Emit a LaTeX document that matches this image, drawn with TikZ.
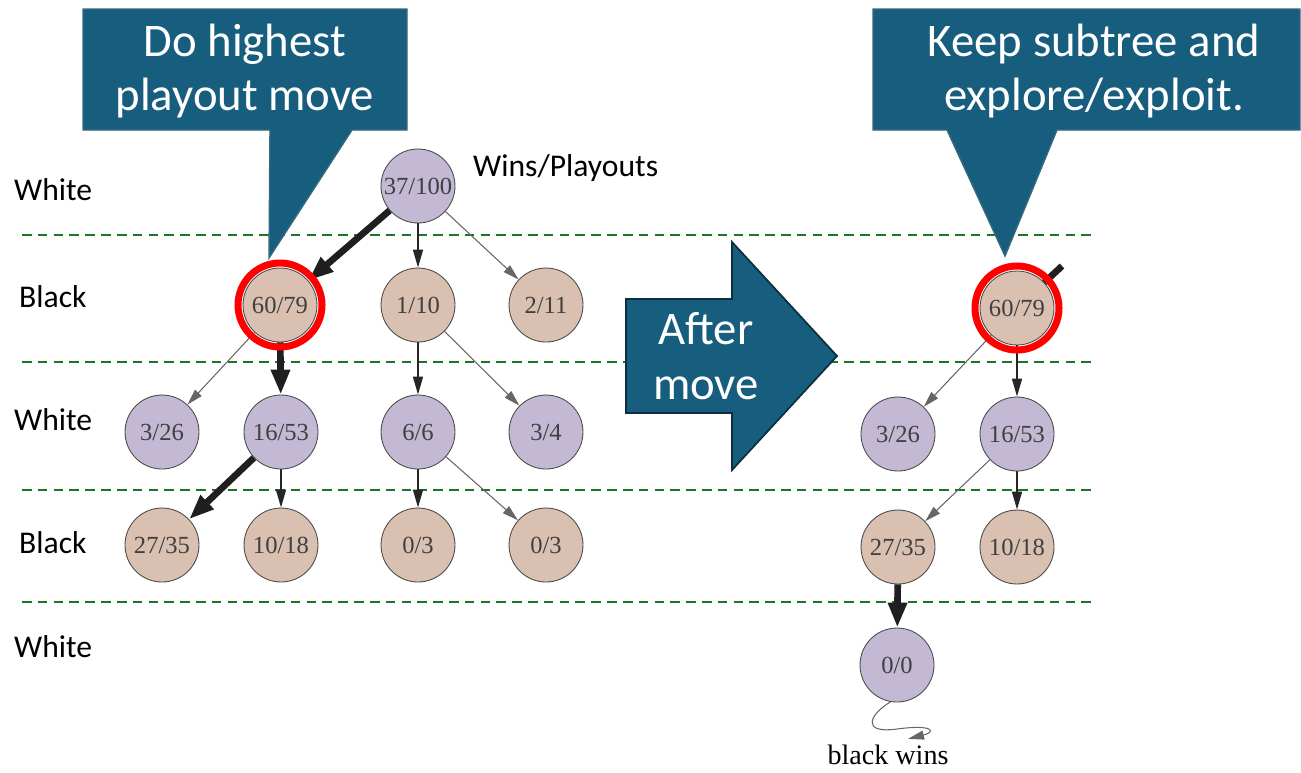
\documentclass[tikz,border=0pt]{standalone}
\usepackage{fontspec}
\setmainfont{Liberation Serif}
\newfontfamily\calibri{Carlito}
\usetikzlibrary{arrows.meta,calc}
\definecolor{calloutblue}{RGB}{23,94,126}
\definecolor{whitenode}{RGB}{196,185,212}
\definecolor{blacknode}{RGB}{217,192,176}
\definecolor{rowgreen}{RGB}{30,118,36}
\definecolor{nodetext}{RGB}{64,64,64}
\tikzset{
  state/.style={circle, draw=black!70, line width=0.5pt, minimum size=1.48cm, inner sep=0pt,
    text=nodetext, font=\fontsize{14}{16}\selectfont},
  wnode/.style={state, fill=whitenode},
  bnode/.style={state, fill=blacknode},
  thinedge/.style={draw=black!60, line width=0.6pt, -{Triangle[length=0.32cm,width=0.18cm]}},
  midedge/.style={draw=black!85, line width=0.9pt, -{Triangle[length=0.36cm,width=0.2cm]}},
  thickedge/.style={draw=black!88, line width=3.8pt, -{Triangle[length=0.5cm,width=0.36cm]}},
  ring/.style={circle, draw=red, line width=4pt, minimum size=1.68cm, inner sep=0pt},
  rowlabel/.style={anchor=west, font=\calibri\fontsize{18}{20}\selectfont},
  rowsep/.style={draw=rowgreen, line width=1.1pt, dash pattern=on 5.5pt off 3.5pt},
  callout/.style={fill=calloutblue, draw=calloutblue!70!gray, line width=0.8pt},
  callouttext/.style={text=white, align=center, font=\calibri\fontsize{26.6}{31.2}\selectfont}
}
\begin{document}
\begin{tikzpicture}[x=0.02cm, y=-0.02cm]
\useasboundingbox (0,0) rectangle (1301,772);
%row separators
\foreach \y in {235,362,490,602}
  \draw[rowsep] (22,\y) -- (1093,\y);
%row labels
\node[rowlabel] (lw1) at (8,190) {White};
\node[rowlabel] (lb1) at (13,297) {Black};
\node[rowlabel] (lw2) at (8,420) {White};
\node[rowlabel] (lb2) at (13,543) {Black};
\node[rowlabel] (lw3) at (8,647) {White};
\node[rowlabel] (legend) at (467,168) {Wins/Playouts};

%left tree
\node[wnode] (L37) at (418,186) {37/100};
\node[bnode] (L60) at (280,305) {60/79};
\node[bnode] (L1) at (418,305) {1/10};
\node[bnode] (L2) at (546,305) {2/11};
\node[wnode] (L3) at (162,432) {3/26};
\node[wnode] (L16) at (281,432) {16/53};
\node[wnode] (L6) at (418,432) {6/6};
\node[wnode] (L34) at (546,432) {3/4};
\node[bnode] (L27) at (162,545) {27/35};
\node[bnode] (L10) at (281,545) {10/18};
\node[bnode] (L03a) at (418,545) {0/3};
\node[bnode] (L03b) at (546,545) {0/3};

\draw[thickedge] (L37)--(L60);
\draw[midedge] (L37)--(L1);
\draw[thinedge] (L37)--(L2);
\draw[thinedge] (L60)--(L3);
\draw[thickedge] (L60)--(L16);
\draw[midedge] (L1)--(L6);
\draw[thinedge] (L1)--(L34);
\draw[thickedge] (L16)--(L27);
\draw[midedge] (L16)--(L10);
\draw[midedge] (L6)--(L03a);
\draw[thinedge] (L6)--(L03b);

%right tree
\node[bnode] (R60) at (1017,308) {60/79};
\node[wnode] (R3) at (898,434) {3/26};
\node[wnode] (R16) at (1017,434) {16/53};
\node[bnode] (R27) at (898,547) {27/35};
\node[bnode] (R10) at (1017,547) {10/18};
\node[wnode] (R00) at (897,665) {0/0};
\node[font=\fontsize{16}{18}\selectfont] (bw) at (888,755) {black wins};
\coordinate (Rin) at (1062,266);

\draw[thickedge, -] (Rin)--(R60);
\draw[thinedge] (R60)--(R3);
\draw[midedge] (R60)--(R16);
\draw[thinedge] (R16)--(R27);
\draw[midedge] (R16)--(R10);
\draw[thickedge] (R27)--(R00);
\draw[thinedge] (R00.-100) .. controls (870,714) and (860,734) .. (897,729)
  .. controls (934,724) and (936,732) .. ($(bw.north)+(20,0)$);

%highlight rings
\node[ring] (ringL) at (L60) {};
\node[ring] (ringR) at (R60) {};

%callouts
\draw[callout] (83,9) -- (407,9) -- (407,130) -- (352,130) -- (269,258) -- (270,130) -- (83,130) -- cycle;
\node[callouttext] (doit) at (245,71) {Do highest\\playout move};
\draw[callout] (873,9) -- (1300,9) -- (1300,130) -- (1057,130) -- (1005,256) -- (947,130) -- (873,130) -- cycle;
\node[callouttext] (keep) at (1094,71) {Keep subtree and\\explore/exploit.};

%after move arrow
\draw[fill=calloutblue, draw=calloutblue!50!black, line width=1pt]
  (626,299) -- (732,299) -- (732,242) -- (837,356) -- (732,470) -- (732,413) -- (626,413) -- cycle;
\node[callouttext] (after) at (706,356) {After\\move};
\end{tikzpicture}
\end{document}
